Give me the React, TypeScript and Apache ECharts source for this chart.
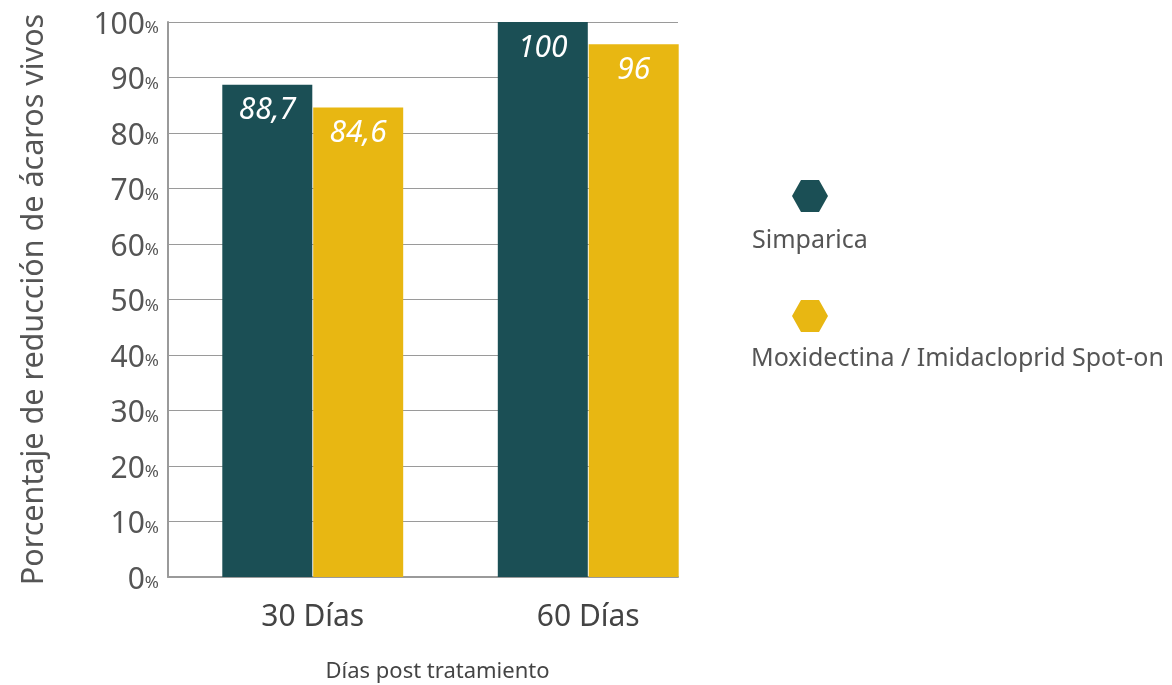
import React, { useEffect, useRef } from "react";
import * as echarts from "echarts";

const categories = ["30 Días", "60 Días"];
const seriesNames = ["Simparica", "Moxidectina / Imidacloprid Spot-on"];
const simparicaValues = [88.7, 100];
const moxidectinaValues = [84.6, 96];
const colors = ["#1b4f55", "#e8b712"];
const yAxisTitle = "Porcentaje de reducción de ácaros vivos";
const xAxisTitle = "Días post tratamiento";

const FONT = "'Noto Sans', sans-serif";
const HEX = "path://M0,16 L9,0 L27,0 L36,16 L27,32 L9,32 Z";

export default function App() {
  const ref = useRef<HTMLDivElement>(null);
  useEffect(() => {
    if (!ref.current) return;
    const chart = echarts.init(ref.current, null, { renderer: "svg" });
    const labelFmt = (p: any) => String(p.value).replace(".", ",");
    chart.setOption({
      animation: false,
      textStyle: { fontFamily: FONT },
      grid: [
        { left: 168, width: 510, top: 22, height: 555, outerBoundsMode: "none", containLabel: false },
        { left: 175, width: 551, top: 22, height: 555, outerBoundsMode: "none", containLabel: false },
      ],
      legend: {
        data: seriesNames,
        orient: "vertical",
        left: 792,
        top: 180,
        padding: 0,
        itemWidth: 36,
        itemHeight: 32,
        itemGap: 88,
        icon: HEX,
        selectedMode: false,
        formatter: () => "",
      },
      xAxis: [
        {
          gridIndex: 0,
          type: "category",
          data: categories,
          axisLine: { lineStyle: { color: "#9a9a9a", width: 2 } },
          axisTick: { show: false },
          axisLabel: { show: false },
          name: xAxisTitle,
          nameLocation: "middle",
          nameGap: 81,
          nameTextStyle: { fontSize: 22, color: "#444", padding: [0, 0, 0, 29], fontFamily: FONT },
        },
        {
          gridIndex: 1,
          type: "category",
          data: categories,
          axisLine: { show: false },
          axisTick: { show: false },
          axisLabel: { margin: 22, fontSize: 30, color: "#444", fontFamily: FONT },
        },
      ],
      yAxis: [
        {
          gridIndex: 0,
          type: "value",
          min: 0,
          max: 100,
          interval: 10,
          axisLine: { show: true, lineStyle: { color: "#9a9a9a", width: 2 } },
          axisTick: { show: false },
          splitLine: { lineStyle: { color: "#9a9a9a", width: 1 } },
          axisLabel: {
            margin: 9,
            formatter: (v: number) => `{n|${v}}{p|%}`,
            rich: {
              n: { fontSize: 30, color: "#555", fontFamily: FONT, lineHeight: 30, verticalAlign: "bottom" },
              p: { fontSize: 17, color: "#555", fontFamily: FONT, lineHeight: 17, verticalAlign: "bottom", padding: [0, 0, 2, 0] },
            },
          },
          name: yAxisTitle,
          nameLocation: "middle",
          nameGap: 122,
          nameTextStyle: { fontSize: 30.5, color: "#555", fontFamily: FONT },
        },
        { gridIndex: 1, type: "value", min: 0, max: 100, show: false },
      ],
      series: [
        {
          name: seriesNames[0],
          type: "bar",
          xAxisIndex: 1,
          yAxisIndex: 1,
          data: simparicaValues,
          barWidth: 90,
          barGap: "1%",
          itemStyle: { color: colors[0] },
          label: {
            show: true,
            position: "insideTop",
            distance: 8,
            color: "#fff",
            fontSize: 30,
            fontStyle: "italic",
            fontFamily: FONT,
            formatter: labelFmt,
          },
        },
        {
          name: seriesNames[1],
          type: "bar",
          xAxisIndex: 1,
          yAxisIndex: 1,
          data: moxidectinaValues,
          barWidth: 90,
          barGap: "1%",
          itemStyle: { color: colors[1] },
          label: {
            show: true,
            position: "insideTop",
            distance: 8,
            color: "#fff",
            fontSize: 30,
            fontStyle: "italic",
            fontFamily: FONT,
            formatter: labelFmt,
          },
        },
      ],
      graphic: [
        { type: "text", left: 752, top: 225, style: { text: seriesNames[0], fontSize: 25, fill: "#555", fontFamily: FONT } },
        { type: "text", left: 751, top: 343, style: { text: seriesNames[1], fontSize: 25, fill: "#555", fontFamily: FONT } },
      ],
    });
    return () => chart.dispose();
  }, []);
  return <div ref={ref} style={{ position: "fixed", left: 0, top: 0, width: 1172, height: 685 }} />;
}
